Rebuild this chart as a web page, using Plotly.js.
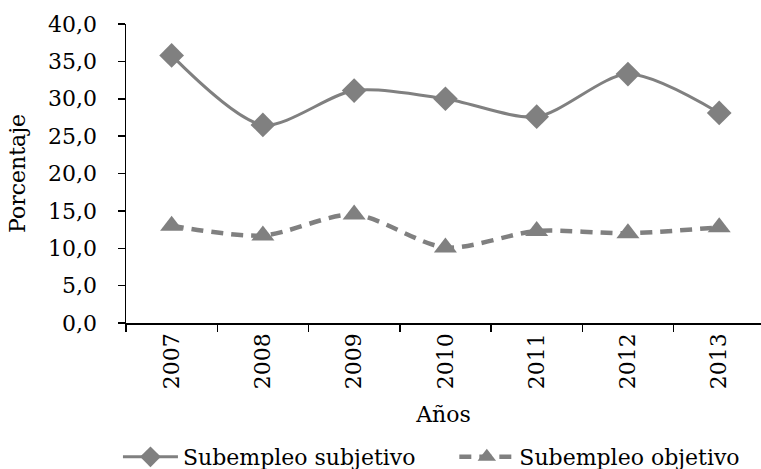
<!DOCTYPE html>
<html>
<head>
<meta charset="utf-8">
<script src="https://cdn.plot.ly/plotly-3.0.1.min.js"></script>
<style>html,body{margin:0;padding:0;background:#fff;}#chart{width:761px;height:469px;}</style>
</head>
<body>
<div id="chart"></div>
<script>
const years = ["2007", "2008", "2009", "2010", "2011", "2012", "2013"];
const subjetivo = [35.8, 26.5, 31.1, 30.0, 27.6, 33.3, 28.1];
const objetivo = [13.0, 11.7, 14.5, 10.1, 12.3, 12.0, 12.8];
const seriesNames = ["Subempleo subjetivo", "Subempleo objetivo"];
const yTitle = "Porcentaje";
const xTitle = "Años";

const FONT = "DejaVu Serif";
const FS = 22;
const GREY = "#808080";
const xRange = [-0.5, 6.458];
const yRange = [0, 40];

const traces = [
  {
    x: years, y: subjetivo, name: seriesNames[0], type: "scatter", mode: "lines+markers",
    legend: "legend",
    line: {color: GREY, width: 3, shape: "spline", smoothing: 0.8},
    marker: {symbol: "diamond", size: 19, color: GREY}
  },
  {
    x: years, y: objetivo, name: seriesNames[1], type: "scatter", mode: "lines+markers",
    legend: "legend2",
    line: {color: GREY, width: 4.5, dash: "12px,8px", shape: "spline", smoothing: 0.8},
    marker: {symbol: "triangle-up", size: 20, color: GREY}
  }
];

const legendBase = {
  orientation: "h", xref: "container", xanchor: "left",
  yref: "container", y: 0.0256, yanchor: "middle",
  font: {family: FONT, size: FS, color: "#000"},
  itemwidth: 55, bgcolor: "rgba(0,0,0,0)"
};

const layout = {
  width: 761, height: 469,
  margin: {l: 125.7, r: 0, t: 24, b: 146.3},
  paper_bgcolor: "#fff", plot_bgcolor: "#fff",
  separators: ", ",
  font: {family: FONT, size: FS, color: "#000"},
  showlegend: true,
  legend: Object.assign({}, legendBase, {x: 0.155}),
  legend2: Object.assign({}, legendBase, {x: 0.597}),
  xaxis: {
    type: "category", range: xRange, tickson: "boundaries",
    ticks: "outside", ticklen: 7, tickwidth: 1.5, tickcolor: "#000",
    showline: true, linecolor: "#000", linewidth: 1.5,
    showgrid: false, zeroline: false, tickangle: -90,
    tickfont: {family: FONT, size: FS, color: "#000"},
    title: {text: xTitle, font: {family: FONT, size: FS, color: "#000"}, standoff: 18}
  },
  yaxis: {
    range: yRange, dtick: 5, tickformat: ".1f",
    ticks: "outside", ticklen: 7, tickwidth: 1.5, tickcolor: "#000",
    showline: true, linecolor: "#000", linewidth: 1.5,
    showgrid: false, zeroline: false, ticklabelstandoff: 16,
    tickfont: {family: FONT, size: FS, color: "#000"},
    title: {text: yTitle, font: {family: FONT, size: FS, color: "#000"}, standoff: 16}
  },
  xaxis2: {
    overlaying: "x", anchor: "y", side: "bottom", range: xRange, tick0: -0.5, dtick: 1,
    ticks: "inside", ticklen: 7, tickwidth: 1.5, tickcolor: "#000",
    showticklabels: false, showgrid: false, zeroline: false, showline: false
  },
  yaxis2: {
    overlaying: "y", anchor: "x", side: "left", range: yRange, dtick: 5,
    ticks: "inside", ticklen: 7, tickwidth: 1.5, tickcolor: "#000",
    showticklabels: false, showgrid: false, zeroline: false, showline: false
  }
};

Plotly.newPlot("chart", traces, layout, {displayModeBar: false, staticPlot: true});
</script>
</body>
</html>
